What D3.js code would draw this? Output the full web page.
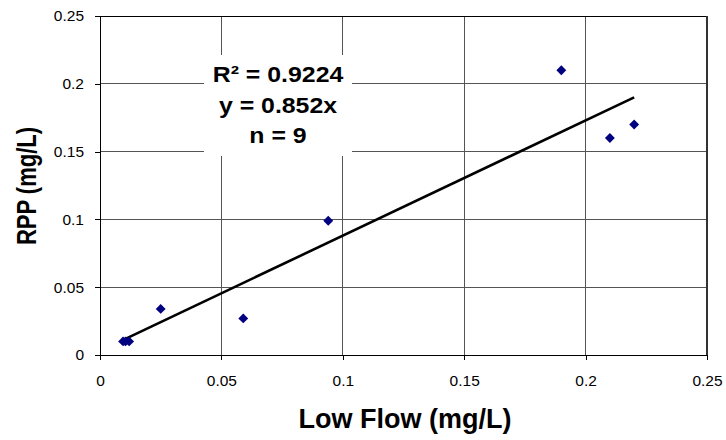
<!DOCTYPE html>
<meta charset="utf-8">
<style>
    html, body { margin: 0; padding: 0; background: #fff; }
    svg { font-family: "Liberation Sans", Arial, sans-serif; }
</style>
<svg id="chart" width="726" height="440"></svg>
<script src="https://d3js.org/d3.v7.min.js"></script>
<script>
    // data
    const lowFlow = [0.0095, 0.0105, 0.012, 0.025, 0.059, 0.094, 0.19, 0.21, 0.22];
    const rpp     = [0.010, 0.010, 0.010, 0.034, 0.027, 0.099, 0.21, 0.16, 0.17];
    const trendX  = [0.0096, 0.22];
    const trendY  = [0.0112, 0.19];
    const xTicks  = [0, 0.05, 0.1, 0.15, 0.2, 0.25];
    const yTicks  = [0, 0.05, 0.1, 0.15, 0.2, 0.25];
    const statLines = ["R\u00B2 = 0.9224", "y = 0.852x", "n = 9"];

    const svg = d3.select("#chart");
    const plotL = 100, plotR = 707, plotT = 16, plotB = 355;

    const x = d3.scaleLinear().domain([0, 0.25]).range([plotL, plotR]);
    const y = d3.scaleLinear().domain([0, 0.25]).range([plotB, plotT]);

    // grid
    svg.append("g").selectAll("line").data(xTicks.slice(1, -1)).join("line")
        .attr("x1", d => x(d)).attr("x2", d => x(d))
        .attr("y1", plotT).attr("y2", plotB)
        .attr("stroke", "#555").attr("stroke-width", 1).attr("shape-rendering", "crispEdges");
    svg.append("g").selectAll("line").data(yTicks.slice(1, -1)).join("line")
        .attr("x1", plotL).attr("x2", plotR)
        .attr("y1", d => y(d)).attr("y2", d => y(d))
        .attr("stroke", "#555").attr("stroke-width", 1).attr("shape-rendering", "crispEdges");

    // frame
    svg.append("line").attr("x1", plotL).attr("x2", plotR).attr("y1", plotT).attr("y2", plotT)
        .attr("stroke", "#000").attr("shape-rendering", "crispEdges");
    svg.append("line").attr("x1", plotR).attr("x2", plotR).attr("y1", plotT).attr("y2", plotB)
        .attr("stroke", "#333").attr("stroke-width", 2).attr("shape-rendering", "crispEdges");

    // axes
    const xAxis = svg.append("g").attr("transform", `translate(0,${plotB})`)
        .call(d3.axisBottom(x).tickValues(xTicks).tickFormat(d3.format("")).tickSizeOuter(0).tickSize(5).tickPadding(15));
    const yAxis = svg.append("g").attr("transform", `translate(${plotL},0)`)
        .call(d3.axisLeft(y).tickValues(yTicks).tickFormat(d3.format("")).tickSizeOuter(0).tickSize(5).tickPadding(11));
    [xAxis, yAxis].forEach(a => {
        a.selectAll("text").attr("font-size", 15.5).attr("fill", "#000")
            .attr("font-family", "'Liberation Sans', Arial, sans-serif");
        a.selectAll("line, path").attr("stroke", "#000").attr("shape-rendering", "crispEdges");
        a.select("path").attr("stroke-width", 1.5);
    });

    // stats box
    svg.append("rect").attr("x", 204).attr("y", 55).attr("width", 148).attr("height", 101).attr("fill", "#fff");
    svg.append("g").selectAll("text").data(statLines).join("text")
        .attr("transform", (d, i) => `translate(278,${82 + i * 30.5}) scale(1.13,1)`)
        .attr("text-anchor", "middle").attr("font-size", 22).attr("font-weight", "bold")
        .text(d => d);

    // trend line
    svg.append("line")
        .attr("x1", x(trendX[0])).attr("y1", y(trendY[0]))
        .attr("x2", x(trendX[1])).attr("y2", y(trendY[1]))
        .attr("stroke", "#000").attr("stroke-width", 2.6);

    // points
    const pts = lowFlow.map((v, i) => [v, rpp[i]]);
    svg.append("g").selectAll("path").data(pts).join("path")
        .attr("d", d3.symbol(d3.symbolDiamond2, 62))
        .attr("transform", d => `translate(${x(d[0])},${y(d[1])})`)
        .attr("fill", "#000080");

    // titles
    svg.append("text").attr("x", 405).attr("y", 428).attr("text-anchor", "middle")
        .attr("font-size", 27).attr("font-weight", "bold").text("Low Flow (mg/L)");
    svg.append("text").attr("transform", "translate(36,186) scale(1.25,1) rotate(-90)").attr("text-anchor", "middle")
        .attr("font-size", 22).attr("font-weight", "bold").text("RPP (mg/L)");
</script>
